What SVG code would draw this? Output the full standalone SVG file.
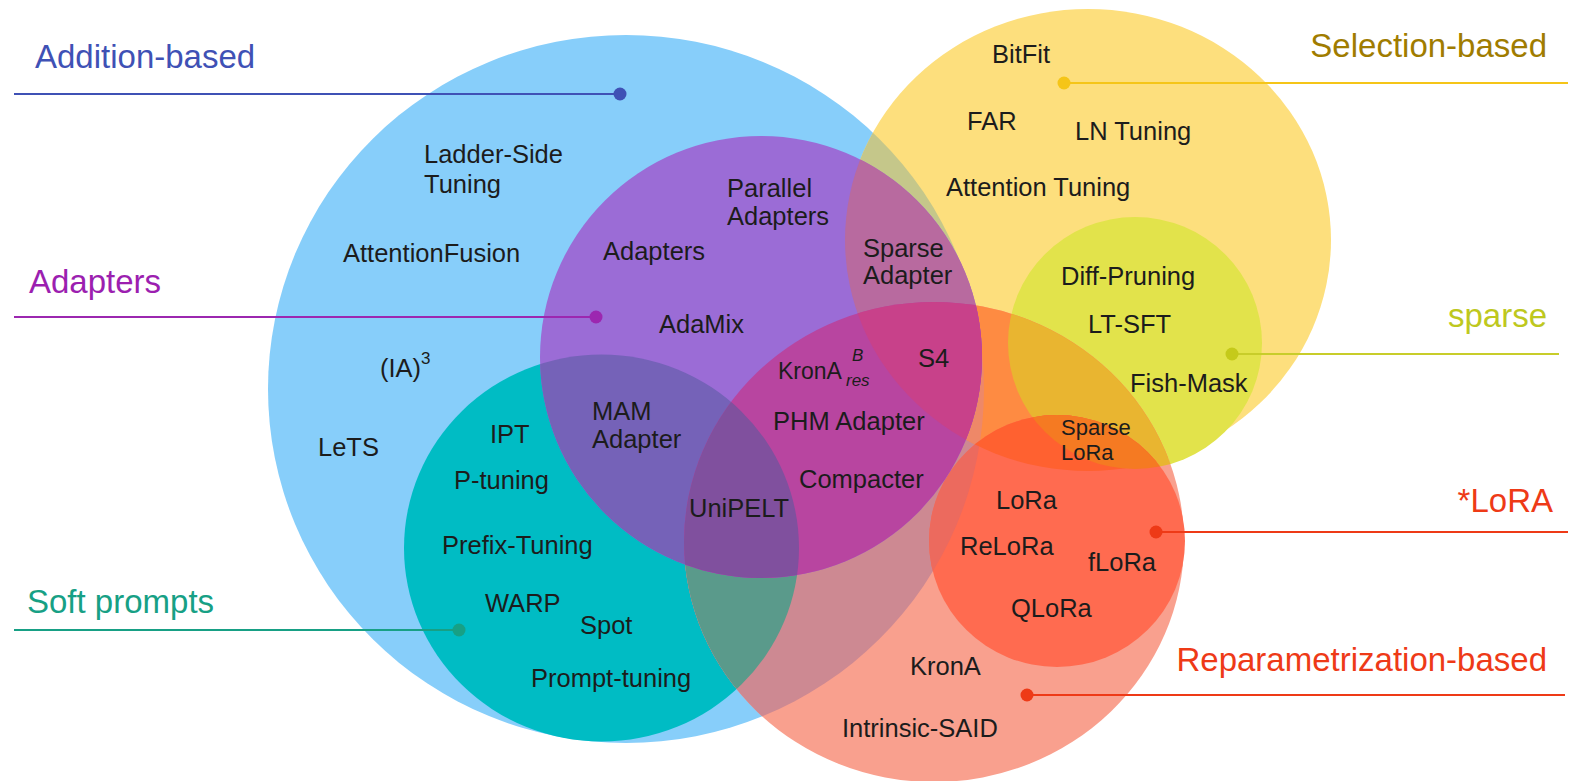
<svg xmlns="http://www.w3.org/2000/svg" width="1577" height="781" viewBox="0 0 1577 781">
  <style>
    .m { font-family: "Liberation Sans", Arial, Helvetica, sans-serif; font-size: 25.5px; fill: #1c1c1c; }
    .sm { font-size: 22px; }
    .sub { font-size: 17px; font-style: italic; }
    .cat { font-family: "Liberation Sans", Arial, Helvetica, sans-serif; font-size: 33px; }
    .lead { stroke-width: 2; fill: none; }
  </style>
  <defs>
    <clipPath id="clipB"><ellipse cx="626" cy="389" rx="358" ry="354"/></clipPath>
    <clipPath id="clipY"><ellipse cx="1088" cy="240" rx="243" ry="231"/></clipPath>
    <clipPath id="clipS"><ellipse cx="1135" cy="343" rx="127" ry="126"/></clipPath>
    <clipPath id="clipT"><ellipse cx="601.5" cy="548" rx="197.5" ry="193.5"/></clipPath>
    <clipPath id="clipR"><ellipse cx="934" cy="542" rx="250" ry="240"/></clipPath>
  </defs>

  <rect width="1577" height="781" fill="#ffffff"/>

  <!-- base sets -->
  <g id="sets">
    <ellipse id="set-addition" cx="626" cy="389" rx="358" ry="354" fill="#87CEFA"/>
    <ellipse id="set-selection" cx="1088" cy="240" rx="243" ry="231" fill="#FDDF7D"/>
    <g clip-path="url(#clipB)"><ellipse cx="1088" cy="240" rx="243" ry="231" fill="#C5C78A"/></g>
    <ellipse id="set-sparse" cx="1135" cy="343" rx="127" ry="126" fill="#E2E34B"/>
    <ellipse id="set-soft-prompts" cx="601.5" cy="548" rx="197.5" ry="193.5" fill="#00BCC4"/>

    <g id="set-reparametrization">
      <ellipse cx="934" cy="542" rx="250" ry="240" fill="#F9A08E"/>
      <g clip-path="url(#clipB)"><ellipse cx="934" cy="542" rx="250" ry="240" fill="#CD8992"/></g>
      <g clip-path="url(#clipT)"><ellipse cx="934" cy="542" rx="250" ry="240" fill="#5A9A8B"/></g>
      <g clip-path="url(#clipY)"><ellipse cx="934" cy="542" rx="250" ry="240" fill="#FE8B42"/></g>
      <g clip-path="url(#clipY)"><g clip-path="url(#clipB)"><ellipse cx="934" cy="542" rx="250" ry="240" fill="#EE8868"/></g></g>
      <g clip-path="url(#clipS)"><ellipse cx="934" cy="542" rx="250" ry="240" fill="#E9B530"/></g>
    </g>

    <g id="set-lora">
      <ellipse cx="1057" cy="541" rx="128" ry="126" fill="#FF6B50"/>
      <g clip-path="url(#clipB)"><ellipse cx="1057" cy="541" rx="128" ry="126" fill="#EC6A5E"/></g>
      <g clip-path="url(#clipY)"><ellipse cx="1057" cy="541" rx="128" ry="126" fill="#FF6130"/></g>
      <g clip-path="url(#clipS)"><ellipse cx="1057" cy="541" rx="128" ry="126" fill="#F57A22"/></g>
    </g>

    <g id="set-adapters">
      <circle cx="761" cy="357" r="221" fill="#9B6CD6"/>
      <g clip-path="url(#clipY)"><circle cx="761" cy="357" r="221" fill="#B86A9F"/></g>
      <g clip-path="url(#clipT)"><circle cx="761" cy="357" r="221" fill="#7562B8"/></g>
      <g clip-path="url(#clipR)"><circle cx="761" cy="357" r="221" fill="#B845A0"/></g>
      <g clip-path="url(#clipR)"><g clip-path="url(#clipY)"><circle cx="761" cy="357" r="221" fill="#C8418A"/></g></g>
      <g clip-path="url(#clipR)"><g clip-path="url(#clipT)"><circle cx="761" cy="357" r="221" fill="#80509E"/></g></g>
    </g>
  </g>

  <!-- leader lines from each set to its caption -->
  <g id="connectors" class="lead">
    <line x1="14" y1="94" x2="620" y2="94" stroke="#3F51B5"/>
    <circle cx="620" cy="94" r="6.5" fill="#3F51B5"/>
    <line x1="1064" y1="83" x2="1568" y2="83" stroke="#F5C518"/>
    <circle cx="1064" cy="83" r="6.5" fill="#F5C518"/>
    <line x1="14" y1="317" x2="596" y2="317" stroke="#9C27B0"/>
    <circle cx="596" cy="317" r="6.5" fill="#9C27B0"/>
    <line x1="1232" y1="354" x2="1559" y2="354" stroke="#C8CD2A"/>
    <circle cx="1232" cy="354" r="6.5" fill="#C5CA1A"/>
    <line x1="1156" y1="532" x2="1568" y2="532" stroke="#EE3A17"/>
    <circle cx="1156" cy="532" r="6.5" fill="#EE3A17"/>
    <line x1="14" y1="630" x2="459" y2="630" stroke="#17A085"/>
    <circle cx="459" cy="630" r="6.5" fill="#17A085"/>
    <line x1="1027" y1="695" x2="1565" y2="695" stroke="#EE3A17"/>
    <circle cx="1027" cy="695" r="6.5" fill="#EE3A17"/>
  </g>

  <!-- set captions -->
  <g id="captions" class="cat">
    <text id="cap-addition" x="35" y="68" fill="#3F51B5">Addition-based</text>
    <text id="cap-selection" x="1547" y="57" fill="#A07C00" text-anchor="end">Selection-based</text>
    <text id="cap-adapters" x="29" y="293" fill="#9C1FB0">Adapters</text>
    <text id="cap-sparse" x="1547" y="327" fill="#BEC81E" text-anchor="end">sparse</text>
    <text id="cap-lora" x="1553" y="512" fill="#EE3A17" text-anchor="end">*LoRA</text>
    <text id="cap-soft" x="27" y="613" fill="#17A085">Soft prompts</text>
    <text id="cap-reparam" x="1547" y="671" fill="#EE3A17" text-anchor="end">Reparametrization-based</text>
  </g>

  <!-- method names -->
  <g id="methods" class="m">
    <g id="m-bitfit"><text x="992" y="63">BitFit</text></g>
    <g id="m-far"><text x="967" y="130">FAR</text></g>
    <g id="m-ln-tuning"><text x="1075" y="140">LN Tuning</text></g>
    <g id="m-attention-tuning"><text x="946" y="196">Attention Tuning</text></g>
    <g id="m-ladder-side"><text x="424" y="163">Ladder-Side</text><text x="424" y="193">Tuning</text></g>
    <g id="m-attentionfusion"><text x="343" y="262">AttentionFusion</text></g>
    <g id="m-parallel-adapters"><text x="727" y="197">Parallel</text><text x="727" y="225">Adapters</text></g>
    <g id="m-adapters"><text x="603" y="260">Adapters</text></g>
    <g id="m-sparse-adapter"><text x="863" y="257">Sparse</text><text x="863" y="284">Adapter</text></g>
    <g id="m-adamix"><text x="659" y="333">AdaMix</text></g>
    <g id="m-ia3"><text x="380" y="377">(IA)</text><text class="sub" x="421" y="364" style="font-style:normal">3</text></g>
    <g id="m-krona-res"><text x="778" y="379" style="font-size:23px">KronA</text><text class="sub" x="846" y="386">res</text><text class="sub" x="852" y="361">B</text></g>
    <g id="m-s4"><text x="918" y="367">S4</text></g>
    <g id="m-diff-pruning"><text x="1061" y="285">Diff-Pruning</text></g>
    <g id="m-lt-sft"><text x="1088" y="333">LT-SFT</text></g>
    <g id="m-fish-mask"><text x="1130" y="392">Fish-Mask</text></g>
    <g id="m-sparse-lora"><text class="sm" x="1061" y="435">Sparse</text><text class="sm" x="1061" y="460">LoRa</text></g>
    <g id="m-mam"><text x="592" y="420">MAM</text><text x="592" y="448">Adapter</text></g>
    <g id="m-phm"><text x="773" y="430">PHM Adapter</text></g>
    <g id="m-compacter"><text x="799" y="488">Compacter</text></g>
    <g id="m-unipelt"><text x="689" y="517">UniPELT</text></g>
    <g id="m-lets"><text x="318" y="456">LeTS</text></g>
    <g id="m-ipt"><text x="490" y="443">IPT</text></g>
    <g id="m-p-tuning"><text x="454" y="489">P-tuning</text></g>
    <g id="m-prefix"><text x="442" y="554">Prefix-Tuning</text></g>
    <g id="m-warp"><text x="485" y="612">WARP</text></g>
    <g id="m-spot"><text x="580" y="634">Spot</text></g>
    <g id="m-prompt"><text x="531" y="687">Prompt-tuning</text></g>
    <g id="m-lora"><text x="996" y="509">LoRa</text></g>
    <g id="m-relora"><text x="960" y="555">ReLoRa</text></g>
    <g id="m-flora"><text x="1088" y="571">fLoRa</text></g>
    <g id="m-qlora"><text x="1011" y="617">QLoRa</text></g>
    <g id="m-krona"><text x="910" y="675">KronA</text></g>
    <g id="m-intrinsic"><text x="842" y="737">Intrinsic-SAID</text></g>
  </g>
</svg>
